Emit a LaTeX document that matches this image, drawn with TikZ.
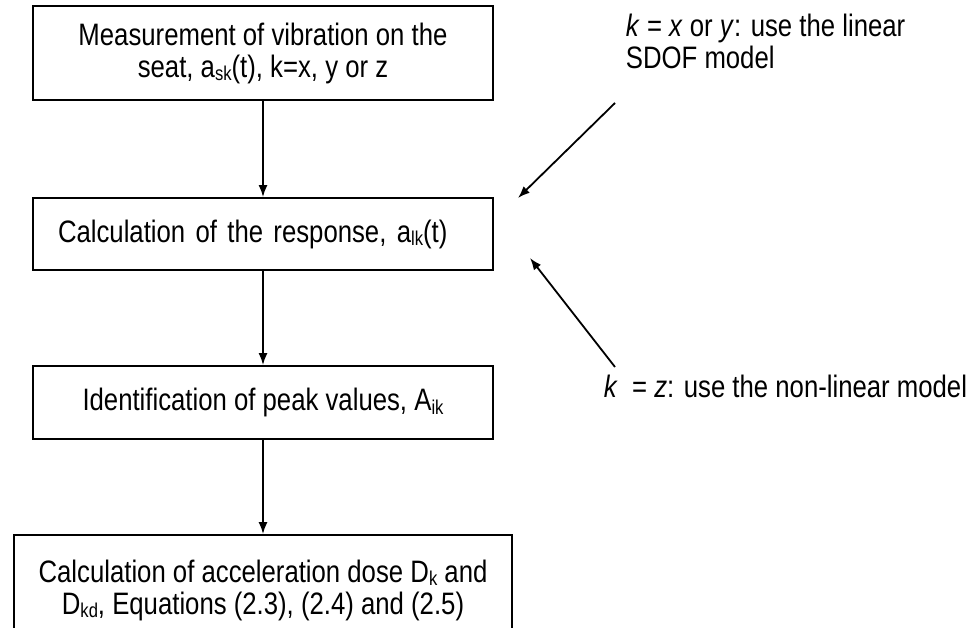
\documentclass[tikz,border=0pt]{standalone}
\usepackage{fontspec}
\usetikzlibrary{arrows.meta}
\setmainfont{Liberation Sans}[FakeStretch=0.83]
\newcommand\lowidx[1]{\raisebox{-0.12em}{\fontsize{20}{20}\selectfont #1}}

\begin{document}
\begin{tikzpicture}[x=1pt, y=-1pt, >={Latex[length=12pt, width=9pt]}, line width=1.8pt,
    font=\fontsize{31}{32}\selectfont,
    blk/.style={draw, inner sep=0pt, minimum width=460, align=center}]
    \useasboundingbox (0,0) rectangle (970,628);
    \clip (0,0) rectangle (970,628);
    \node[blk, minimum height=94] (meas) at (263, 53)
        {Measurement of vibration on the\\seat, a\lowidx{sk}(t), k=x, y or z};
    \node[blk, minimum height=72, text width=410, inner xsep=25, align=left] (resp) at (263, 234)
        {Calculation of the response, a\lowidx{lk}(t)};
    \node[blk, minimum height=73] (peak) at (263, 402.5)
        {Identification of peak values, A\lowidx{ik}};
    \node[blk, minimum width=498, minimum height=110] (dose) at (263, 590)
        {Calculation of acceleration dose D\lowidx{k} and\\D\lowidx{kd}, Equations (2.3), (2.4) and (2.5)};
    \draw[->] (meas) -- (resp);
    \draw[->] (resp) -- (peak);
    \draw[->] (peak) -- (dose);
    \node[inner sep=0pt, anchor=north west, align=left] (lintxt) at (625, 13)
        {\textit{k} = \textit{x} or \textit{y}: use the linear\\SDOF model};
    \node[inner sep=0pt, anchor=base west] (nltxt) at (603, 398)
        {\textit{k}\ \ = \textit{z}: use the non-linear model};
    \coordinate (lin0) at (615, 103);
    \coordinate (lin1) at (518, 198);
    \coordinate (nl0) at (615, 367);
    \coordinate (nl1) at (530, 258);
    \draw[->] (lin0) -- (lin1);
    \draw[->] (nl0) -- (nl1);
\end{tikzpicture}
\end{document}
